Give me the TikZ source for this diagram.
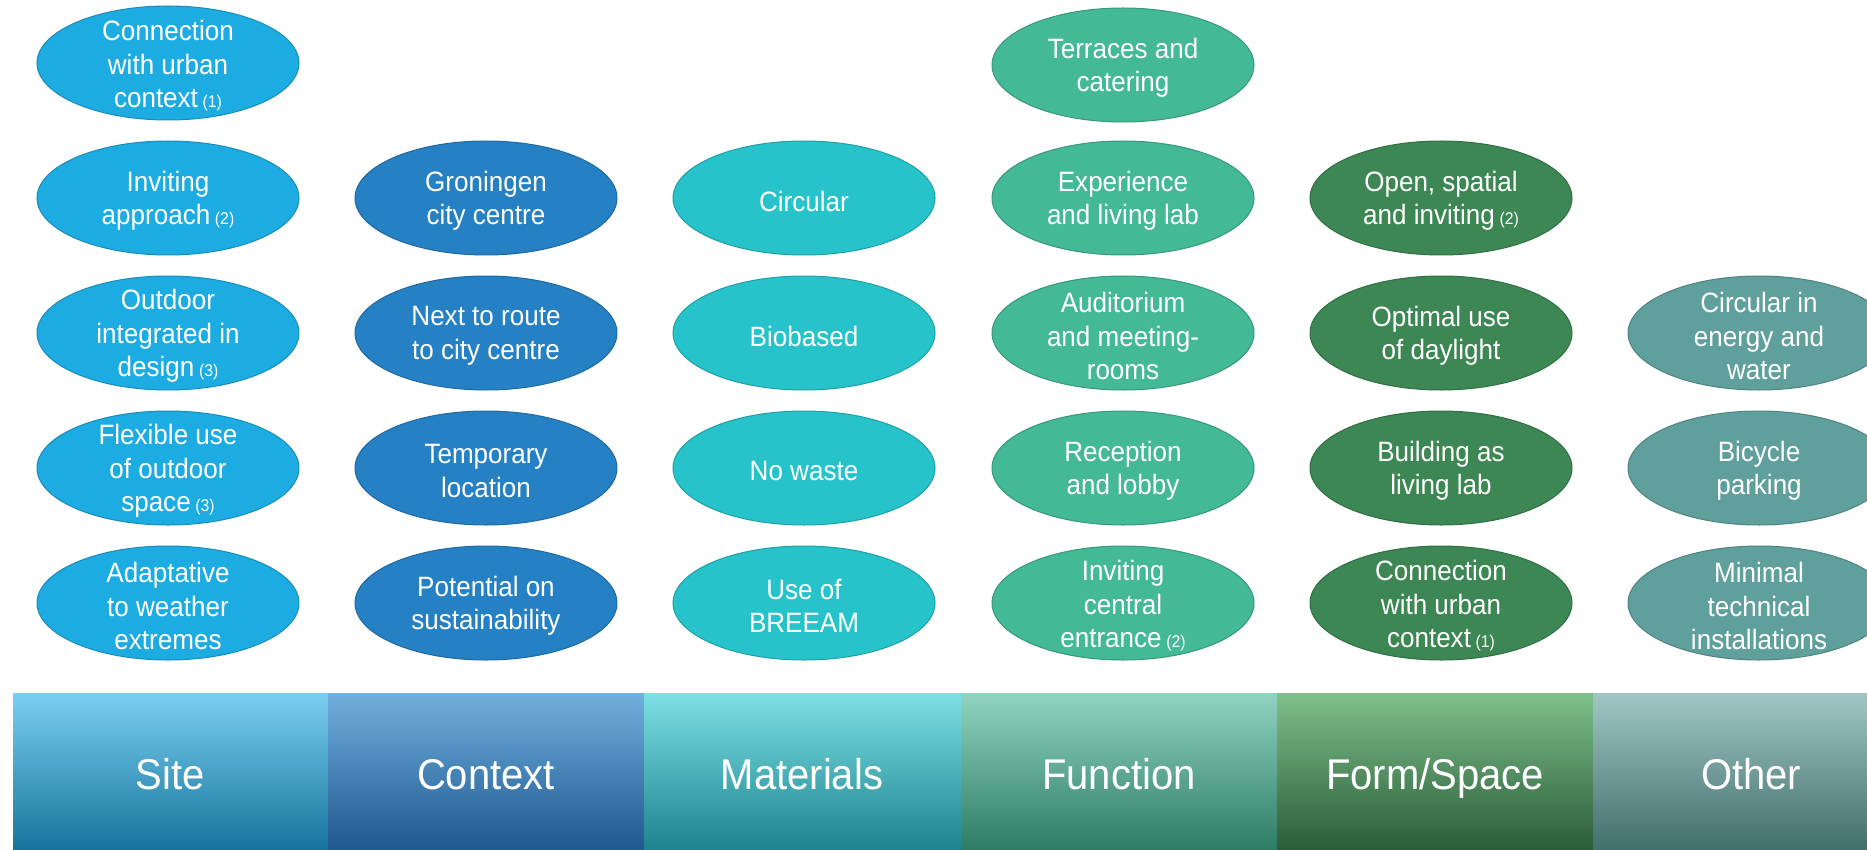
\documentclass[tikz,border=0pt]{standalone}
\usepackage{fontspec}
\setmainfont{Liberation Sans}[FakeStretch=0.93]
\usetikzlibrary{shapes.geometric}
\definecolor{siteC}{RGB}{29,172,226}
\definecolor{contC}{RGB}{38,128,196}
\definecolor{matC}{RGB}{39,195,202}
\definecolor{funC}{RGB}{67,185,150}
\definecolor{formC}{RGB}{60,135,83}
\definecolor{othC}{RGB}{96,160,156}
% bar gradients
\definecolor{siteT}{RGB}{122,207,241}\definecolor{siteM}{RGB}{34,174,228}\definecolor{siteB}{RGB}{22,116,156}
\definecolor{contT}{RGB}{112,175,224}\definecolor{contM}{RGB}{37,130,200}\definecolor{contB}{RGB}{30,88,140}
\definecolor{matT}{RGB}{124,224,228}\definecolor{matM}{RGB}{45,200,208}\definecolor{matB}{RGB}{30,130,144}
\definecolor{funT}{RGB}{144,212,192}\definecolor{funM}{RGB}{70,184,148}\definecolor{funB}{RGB}{46,124,102}
\definecolor{formT}{RGB}{126,192,138}\definecolor{formM}{RGB}{62,143,85}\definecolor{formB}{RGB}{42,92,56}
\definecolor{othT}{RGB}{160,199,196}\definecolor{othM}{RGB}{98,163,158}\definecolor{othB}{RGB}{66,110,108}
\tikzset{
  bub/.style={ellipse, draw=#1!82!black, fill=#1, line width=1pt,
    minimum width=262pt, minimum height=114pt, inner sep=0pt},
  btxt/.style={text=white, align=center, inner sep=0pt, yshift=-3pt,
    font=\fontsize{28}{33.5}\selectfont},
  barlbl/.style={text=white, anchor=base, inner sep=0pt,
    font=\fontsize{43}{50}\selectfont}
}
\newcommand{\nt}[1]{\,{\fontsize{17}{20}\selectfont(#1)}}
\begin{document}
\begin{tikzpicture}[x=1pt,y=-1pt]
\useasboundingbox (0,0) rectangle (1867,850);
\clip (0,0) rectangle (1867,850);
\fill[white] (0,0) rectangle (1867,850);

% Site column
\node[bub=siteC] (s1) at (168,63) {};
\node[btxt] (s1t) at (s1) {Connection\\with urban\\context\nt{1}};
\node[bub=siteC] (s2) at (168,198) {};
\node[btxt] (s2t) at (s2) {Inviting\\approach\nt{2}};
\node[bub=siteC] (s3) at (168,333) {};
\node[btxt] (s3t) at (s3) {Outdoor\\integrated in\\design\nt{3}};
\node[bub=siteC] (s4) at (168,468) {};
\node[btxt] (s4t) at (s4) {Flexible use\\of outdoor\\space\nt{3}};
\node[bub=siteC] (s5) at (168,603) {};
\node[btxt] (s5t) at (s5) {Adaptative\\to weather\\extremes};

% Context column
\node[bub=contC] (c2) at (486,198) {};
\node[btxt] (c2t) at (c2) {Groningen\\city centre};
\node[bub=contC] (c3) at (486,333) {};
\node[btxt] (c3t) at (c3) {Next to route\\to city centre};
\node[bub=contC] (c4) at (486,468) {};
\node[btxt] (c4t) at (c4) {Temporary\\location};
\node[bub=contC] (c5) at (486,603) {};
\node[btxt] (c5t) at (c5) {Potential on\\sustainability};

% Materials column
\node[bub=matC] (m2) at (804,198) {};
\node[btxt] (m2t) at (m2) {Circular};
\node[bub=matC] (m3) at (804,333) {};
\node[btxt] (m3t) at (m3) {Biobased};
\node[bub=matC] (m4) at (804,468) {};
\node[btxt] (m4t) at (m4) {No waste};
\node[bub=matC] (m5) at (804,603) {};
\node[btxt] (m5t) at (m5) {Use of\\BREEAM};

% Function column
\node[bub=funC] (f1) at (1123,65) {};
\node[btxt] (f1t) at (f1) {Terraces and\\catering};
\node[bub=funC] (f2) at (1123,198) {};
\node[btxt] (f2t) at (f2) {Experience\\and living lab};
\node[bub=funC] (f3) at (1123,333) {};
\node[btxt] (f3t) at (f3) {Auditorium\\and meeting-\\rooms};
\node[bub=funC] (f4) at (1123,468) {};
\node[btxt] (f4t) at (f4) {Reception\\and lobby};
\node[bub=funC] (f5) at (1123,603) {};
\node[btxt] (f5t) at (f5) {Inviting\\central\\entrance\nt{2}};

% Form/Space column
\node[bub=formC] (p2) at (1441,198) {};
\node[btxt] (p2t) at (p2) {Open, spatial\\and inviting\nt{2}};
\node[bub=formC] (p3) at (1441,333) {};
\node[btxt] (p3t) at (p3) {Optimal use\\of daylight};
\node[bub=formC] (p4) at (1441,468) {};
\node[btxt] (p4t) at (p4) {Building as\\living lab};
\node[bub=formC] (p5) at (1441,603) {};
\node[btxt] (p5t) at (p5) {Connection\\with urban\\context\nt{1}};

% Other column
\node[bub=othC] (o3) at (1759,333) {};
\node[btxt] (o3t) at (o3) {Circular in\\energy and\\water};
\node[bub=othC] (o4) at (1759,468) {};
\node[btxt] (o4t) at (o4) {Bicycle\\parking};
\node[bub=othC] (o5) at (1759,603) {};
\node[btxt] (o5t) at (o5) {Minimal\\technical\\installations};

% Category bars
\shade[top color=siteT, middle color=siteM, bottom color=siteB] (13,693) rectangle (328,850);
\shade[top color=contT, middle color=contM, bottom color=contB] (328,693) rectangle (644,850);
\shade[top color=matT, middle color=matM, bottom color=matB] (644,693) rectangle (961,850);
\shade[top color=funT, middle color=funM, bottom color=funB] (961,693) rectangle (1277,850);
\shade[top color=formT, middle color=formM, bottom color=formB] (1277,693) rectangle (1593,850);
\shade[top color=othT, middle color=othM, bottom color=othB] (1593,693) rectangle (1910,850);

\node[barlbl] (lsite) at (170,789) {Site};
\node[barlbl] (lcont) at (486,789) {Context};
\node[barlbl] (lmat) at (802,789) {Materials};
\node[barlbl] (lfun) at (1119,789) {Function};
\node[barlbl] (lform) at (1435,789) {Form/Space};
\node[barlbl] (loth) at (1751,789) {Other};
\end{tikzpicture}
\end{document}
